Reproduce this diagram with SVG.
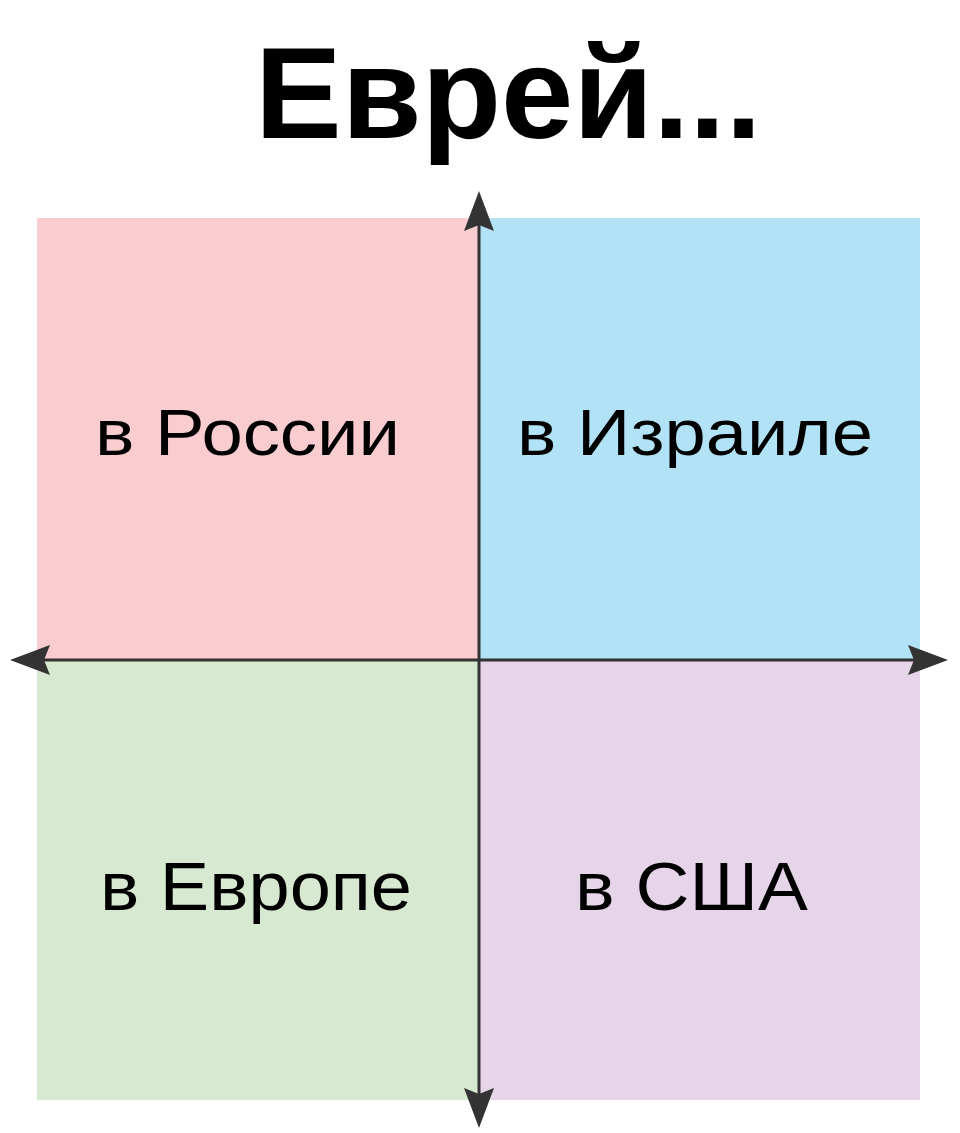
<svg xmlns="http://www.w3.org/2000/svg" width="960" height="1133" viewBox="0 0 960 1133">
<style>
.lbl{font-family:"Liberation Sans",Arial,sans-serif;fill:#000}
.title{font-family:"Liberation Sans",Arial,sans-serif;font-weight:bold;fill:#000}
.axis{stroke:#333;stroke-width:3;fill:none}
.head{fill:#333}
</style>
<rect width="960" height="1133" fill="#fff"/>
<g id="title"><text class="title" x="255" y="138" font-size="130">Еврей...</text></g>
<g id="q-russia"><rect x="37" y="218" width="441" height="441" fill="#f9cdcf"/><text class="lbl" x="95" y="455" font-size="64" textLength="305" lengthAdjust="spacingAndGlyphs">в России</text></g>
<g id="q-israel"><rect x="480" y="218" width="440" height="441" fill="#b2e2f6"/><text class="lbl" x="517" y="455" font-size="64" textLength="356" lengthAdjust="spacingAndGlyphs">в Израиле</text></g>
<g id="q-europe"><rect x="37" y="659" width="441" height="441" fill="#d8e9d1"/><text class="lbl" x="100" y="910" font-size="68" textLength="312" lengthAdjust="spacingAndGlyphs">в Европе</text></g>
<g id="q-usa"><rect x="480" y="659" width="440" height="441" fill="#e6d5e9"/><text class="lbl" x="575" y="910" font-size="68" textLength="233" lengthAdjust="spacingAndGlyphs">в США</text></g>
<g id="connectors">
<line class="axis" x1="479" y1="220" x2="479" y2="1098"/>
<line class="axis" x1="40" y1="660" x2="918" y2="660"/>
<path class="head" d="M479 191 L494 231 L479 225 L464 231 Z"/>
<path class="head" d="M479 1128 L494 1088 L479 1094 L464 1088 Z"/>
<path class="head" d="M10 660 L50 645 L44 660 L50 675 Z"/>
<path class="head" d="M948 660 L908 645 L914 660 L908 675 Z"/>
</g>
</svg>
